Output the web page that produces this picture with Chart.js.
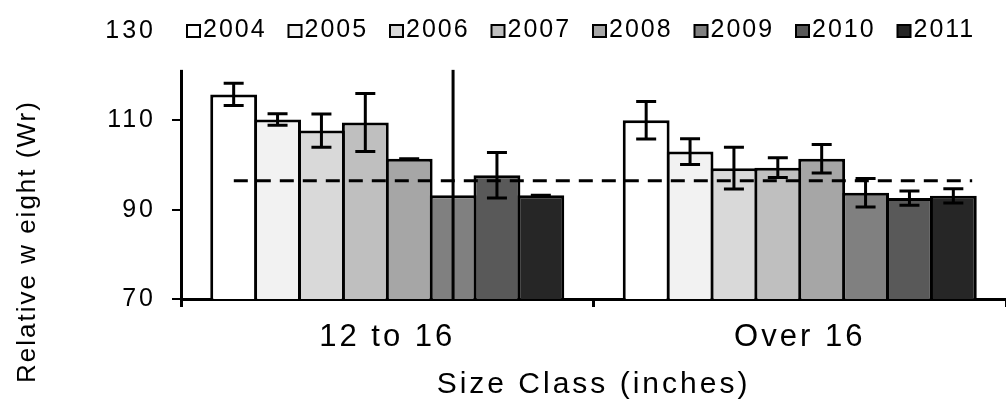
<!doctype html>
<html lang="en">
<head>
<meta charset="utf-8">
<title>Relative weight by size class</title>
<style>
  html, body { margin: 0; padding: 0; background: #fff; }
  #chart { display: block; }
</style>
</head>
<body>
<canvas id="chart" width="1006" height="405"></canvas>
<script src="https://cdn.jsdelivr.net/npm/chart.js"></script>
<script>
// values
const sizeClasses = ['12 to 16', 'Over 16'];
const years = ['2004', '2005', '2006', '2007', '2008', '2009', '2010', '2011'];
const wr12to16 = [115.8, 110.2, 107.7, 109.5, 101.4, 93.2, 97.7, 93.2];
const wrOver16 = [110.0, 103.0, 99.3, 99.4, 101.4, 93.8, 92.6, 93.1];
const err12to16 = [2.5, 1.3, 3.7, 6.5, 0, 30, 5.1, 0];
const errOver16 = [4.2, 2.9, 4.7, 2.2, 3.2, 3.2, 1.6, 1.6];
const targetWr = 96.5;
const targetSpan = [0.064, 0.959];
const yTicks = [70, 90, 110, 130];
const legendFloor = 121.3;

const greys = ['#ffffff', '#f2f2f2', '#d9d9d9', '#bfbfbf', '#a6a6a6', '#808080', '#595959', '#262626'];
const FONT = '"Liberation Sans", Arial, sans-serif';

Chart.defaults.font.family = FONT;
Chart.defaults.color = '#000';

// text in the figure is drawn a little wide
const spacing = {
  id: 'spacing',
  beforeUpdate(chart) { chart.ctx.letterSpacing = '3px'; },
  beforeDraw(chart) { chart.ctx.letterSpacing = '3px'; }
};

const overlays = {
  id: 'overlays',
  afterDatasetsDraw(chart) {
    const {ctx, chartArea, scales: {y, xLine}} = chart;
    ctx.save();
    ctx.beginPath();
    ctx.rect(chartArea.left, chartArea.top, chartArea.right - chartArea.left, chartArea.bottom - chartArea.top);
    ctx.clip();
    ctx.strokeStyle = '#000';
    ctx.lineWidth = 3;

    // dashed reference line (hidden 0..1 axis across the plot)
    const ty = y.getPixelForValue(targetWr);
    ctx.setLineDash([14, 9]);
    ctx.beginPath();
    ctx.moveTo(xLine.getPixelForValue(targetSpan[0]), ty);
    ctx.lineTo(xLine.getPixelForValue(targetSpan[1]), ty);
    ctx.stroke();
    ctx.setLineDash([]);

    // error bars
    years.forEach((yr, i) => {
      const errs = [err12to16[i], errOver16[i]];
      chart.getDatasetMeta(i).data.forEach((bar, j) => {
        const v = chart.data.datasets[i].data[j];
        const top = y.getPixelForValue(v + errs[j]);
        const bot = y.getPixelForValue(v - errs[j]);
        ctx.beginPath();
        ctx.moveTo(bar.x, top); ctx.lineTo(bar.x, bot);
        ctx.moveTo(bar.x - 10, top); ctx.lineTo(bar.x + 10, top);
        ctx.moveTo(bar.x - 10, bot); ctx.lineTo(bar.x + 10, bot);
        ctx.stroke();
      });
    });
    ctx.restore();

    // legend sits on a white box over the top of the plot
    const floor = y.getPixelForValue(legendFloor);
    ctx.save();
    ctx.fillStyle = '#fff';
    ctx.fillRect(chartArea.left - 12, 0, chart.width - chartArea.left + 12, floor);
    ctx.font = '25px ' + FONT;
    ctx.textBaseline = 'middle';
    ctx.textAlign = 'left';
    ctx.letterSpacing = '2px';
    years.forEach((yr, i) => {
      const bx = chartArea.left + 6 + i * 101.5;
      ctx.fillStyle = greys[i];
      ctx.fillRect(bx, 25, 13, 12);
      ctx.strokeStyle = '#000';
      ctx.lineWidth = 2;
      ctx.strokeRect(bx, 25, 13, 12);
      ctx.fillStyle = '#000';
      ctx.fillText(yr, bx + 16, 30);
    });
    ctx.restore();
  },
  afterDraw(chart) {
    const ctx = chart.ctx;
    ctx.save();
    ctx.translate(28, 383);
    ctx.rotate(-Math.PI / 2);
    ctx.font = '26px ' + FONT;
    ctx.letterSpacing = '2px';
    ctx.fillStyle = '#000';
    ctx.textAlign = 'left';
    ctx.textBaseline = 'middle';
    ctx.fillText('Relative w eight (Wr)', 0, 0);
    ctx.restore();
  }
};

const datasets = years.map((yr, i) => ({
  label: yr,
  data: [wr12to16[i], wrOver16[i]],
  backgroundColor: greys[i],
  borderColor: '#000',
  borderWidth: 3,
  barPercentage: 1.068,
  categoryPercentage: 0.851
}));

new Chart(document.getElementById('chart'), {
  type: 'bar',
  data: { labels: sizeClasses, datasets: datasets },
  options: {
    responsive: false,
    animation: false,
    layout: { padding: { top: 23, right: 0, left: 0, bottom: 0 } },
    plugins: { legend: { display: false }, tooltip: { enabled: false } },
    scales: {
      x: {
        z: 1,
        border: { color: '#000', width: 3 },
        grid: { drawOnChartArea: false, tickLength: 8, color: '#000', lineWidth: 3, offset: true },
        ticks: { font: { size: 31 }, padding: 12 },
        title: { display: true, text: 'Size Class (inches)', font: { size: 30 }, padding: { top: 0, bottom: 2 } },
        afterFit(s) { s.height = 106; }
      },
      xLine: { type: 'linear', axis: 'x', min: 0, max: 1, offset: false, display: false },
      y: {
        min: 70,
        max: 130,
        afterBuildTicks(s) { s.ticks = yTicks.map(v => ({ value: v })); },
        border: { color: '#000', width: 3 },
        grid: { drawOnChartArea: false, tickLength: 9, color: '#000', lineWidth: 2 },
        ticks: { font: { size: 25 }, padding: 16 },
        afterFit(s) { s.width = 181; }
      }
    }
  },
  plugins: [spacing, overlays]
});
</script>
</body>
</html>
